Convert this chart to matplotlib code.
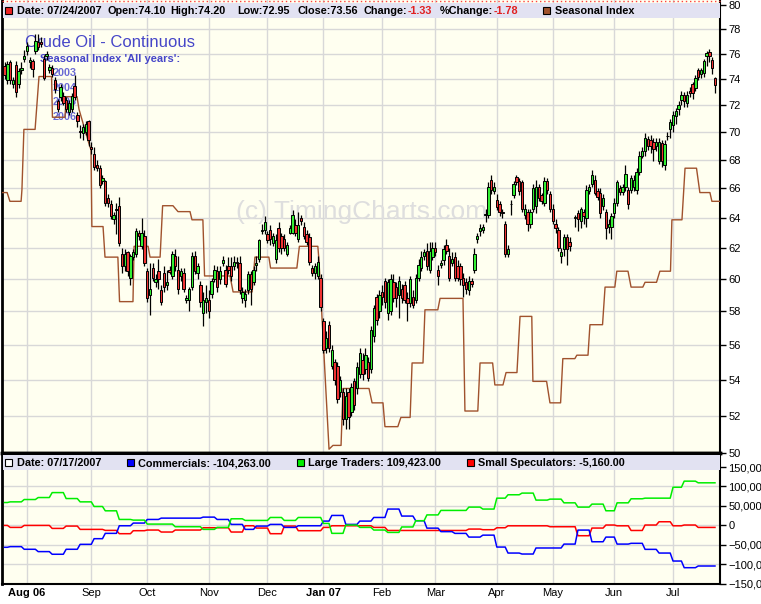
import numpy as np
import pandas as pd
import matplotlib
matplotlib.use("Agg")
import matplotlib.pyplot as plt
from matplotlib.patches import Rectangle
from matplotlib.lines import Line2D
from matplotlib.ticker import FixedLocator, NullLocator, FuncFormatter

plt.rcParams['font.family'] = ['Liberation Sans', 'DejaVu Sans']

nan = np.nan
# ---------------- data ----------------
holidays = ['2006-09-04', '2006-11-23', '2006-12-25', '2007-01-01', '2007-01-02',
            '2007-02-19', '2007-04-06', '2007-05-28', '2007-07-04']
month_labels = ['Aug 06', 'Sep', 'Oct', 'Nov', 'Dec', 'Jan 07', 'Feb', 'Mar', 'Apr', 'May', 'Jun', 'Jul']

opens = [75.05, 73.9, 75.3, 73.6, 75.1, 73.6, 74.7, 75.6, 76.2, 75.3,
         75.45, 76.2, 76.9, 76.9, 75.6, 75.85, 74.7, 74.9, 73.9, 72.3,
         72.6, 72.7, 72.4, 71.5, 71.7, 73.5, 71.3, 70.1, 69.9, 70.0,
         70.8, 68.9, 68.4, 67.6, 67.4, 66.5, 66.5, 65.3, 64.9, 63.9,
         64.5, 64.8, 61.6, 60.8, 61.7, 60.1, 61.4, 61.6, 63.0, 62.1,
         62.8, 60.5, 59.0, 60.7, 59.8, 60.5, 59.3, 60.4, 59.6, 60.6,
         60.2, 61.5, 60.6, 60.2, 60.4, 58.7, 58.7, 59.5, 61.5, 60.4,
         59.6, 57.9, 58.6, 58.7, 59.1, 60.0, 60.5, 60.0, 61.0, 60.6,
         60.8, 60.8, 60.8, 61.1, 61.0, 58.8, 58.7, 59.3, 60.3, 59.8,
         60.9, 61.3, 63.1, 63.2, 62.9, 63.2, 62.3, 61.3, 63.3, 62.8,
         62.6, 61.6, 63.0, 63.0, 63.5, 62.6, 64.0, 63.4, 62.9, 62.7,
         60.7, 60.4, 60.2, 60.1, 57.4, 55.8, 57.2, 54.8, 55.0, 54.8,
         53.3, 53.3, 51.8, 53.3, 52.2, 53.9, 53.5, 54.3, 55.1, 54.6,
         55.0, 54.6, 56.5, 58.9, 58.0, 59.2, 59.9, 57.9, 58.0, 59.8,
         59.5, 59.0, 59.4, 59.6, 58.8, 58.5, 58.9, 58.7, 60.1, 60.7,
         61.5, 61.8, 60.6, 61.4, 62.0, 60.6, 60.9, 61.2, 62.2, 61.5,
         61.0, 61.4, 60.8, 60.8, 60.1, 59.8, 59.3, 59.9, 60.6, 62.6,
         63.1, 63.2, 64.2, 64.2, 66.6, 65.8, 65.2, 64.9, 64.4, 63.6,
         61.6, 64.9, 65.5, 66.8, 66.5, 66.4, 64.2, 64.4, 63.6, 64.6,
         64.8, 66.1, 65.5, 65.0, 66.5, 65.6, 64.6, 63.6, 63.2, 61.5,
         61.9, 62.7, 62.4, nan, 64.0, 64.3, 63.8, 64.4, 64.0, 65.8,
         66.3, 66.6, 65.8, 65.7, 64.8, 64.4, 63.4, 63.4, 64.3, 65.0,
         66.0, 65.75, 66.05, 65.9, 65.9, 66.1, 65.9, 67.1, 68.3, 68.6,
         69.5, 69.4, 69.3, 69.0, 67.9, 69.2, 67.6, 69.7, 70.2, 70.5,
         71.2, 71.75, 72.4, 72.8, 72.2, 73.1, 73.6, 73.3, 74.7, 74.4,
         74.5, 75.85, 76.1, 75.5, 74.10]
highs = [75.3, 75.4, 75.5, 74.2, 75.4, 74.9, 75.3, 76.3, 76.9, 75.7,
         75.6, 77.6, 77.6, 77.3, 75.9, 76.2, 75.2, 75.1, 74.2, 72.5,
         73.6, 73.0, 72.6, 72.4, 72.9, 74.3, 71.5, 70.5, 70.6, 70.8,
         70.9, 69.3, 68.9, 68.0, 67.6, 66.9, 66.6, 65.6, 65.2, 64.4,
         65.0, 65.4, 62.0, 61.9, 61.8, 61.6, 61.9, 63.3, 63.2, 64.0,
         63.2, 60.7, 61.0, 61.0, 60.3, 61.3, 59.6, 60.8, 60.6, 60.8,
         61.8, 61.9, 61.5, 60.7, 60.7, 59.0, 59.5, 61.7, 61.8, 61.0,
         59.9, 59.2, 59.6, 59.3, 60.1, 60.9, 60.8, 60.8, 61.5, 60.9,
         61.4, 61.4, 61.5, 61.4, 61.5, 59.5, 59.4, 60.5, 60.5, 60.8,
         61.5, 62.6, 63.6, 64.1, 63.1, 63.5, 63.0, 62.9, 63.7, 63.0,
         62.9, 62.4, 63.5, 64.5, 63.9, 64.4, 64.2, 63.7, 63.2, 63.0,
         60.9, 61.0, 61.5, 60.3, 57.6, 56.8, 57.4, 56.0, 55.2, 55.0,
         54.2, 53.5, 53.5, 53.5, 53.8, 54.1, 55.0, 55.8, 55.5, 55.8,
         55.3, 57.1, 58.4, 59.1, 59.3, 59.6, 60.1, 60.0, 60.3, 60.3,
         59.8, 60.2, 59.7, 59.9, 59.2, 60.2, 59.3, 60.3, 61.3, 61.8,
         61.9, 62.3, 62.4, 62.4, 62.4, 60.9, 61.2, 62.2, 62.6, 62.0,
         61.7, 61.7, 61.2, 61.0, 60.4, 60.1, 60.2, 60.1, 62.0, 63.0,
         63.6, 63.6, 64.6, 66.4, 66.9, 66.4, 65.6, 65.1, 64.6, 63.8,
         62.2, 65.2, 66.5, 66.9, 66.7, 66.6, 64.9, 64.6, 64.6, 66.3,
         66.6, 66.3, 65.7, 66.8, 66.7, 65.8, 64.9, 63.9, 63.4, 62.0,
         62.9, 62.9, 62.7, nan, 64.2, 64.5, 64.7, 64.6, 66.2, 66.3,
         67.3, 66.9, 66.0, 66.0, 65.6, 64.6, 63.9, 64.3, 65.3, 66.6,
         66.2, 66.3, 67.6, 66.1, 66.9, 66.9, 67.4, 68.6, 68.9, 69.9,
         69.7, 69.8, 69.6, 69.6, 69.6, 69.4, 69.4, 70.0, 71.0, 71.6,
         71.8, 72.3, 73.1, 73.0, 73.1, 73.4, 73.8, 74.3, 74.9, 74.9,
         75.6, 76.2, 76.4, 75.7, 74.20]
lows = [74.0, 73.6, 73.6, 73.3, 72.6, 73.3, 74.4, 75.3, 75.9, 74.9,
        74.2, 76.0, 76.3, 76.5, 73.9, 75.5, 74.5, 74.2, 72.9, 71.5,
        72.3, 72.0, 71.5, 71.3, 71.5, 72.4, 70.4, 69.6, 69.4, 69.8,
        69.0, 68.4, 67.3, 67.2, 66.0, 66.3, 64.8, 64.7, 63.9, 63.6,
        62.9, 62.1, 60.4, 60.5, 60.2, 59.6, 61.2, 61.4, 62.5, 61.9,
        60.8, 58.6, 57.8, 59.9, 59.5, 59.4, 58.4, 59.2, 59.3, 60.3,
        60.0, 60.5, 59.1, 59.9, 59.2, 58.5, 58.0, 59.3, 60.3, 60.0,
        58.3, 57.1, 57.9, 57.6, 58.8, 59.8, 59.2, 59.7, 60.8, 59.5,
        60.3, 59.9, 60.6, 60.7, 59.1, 58.5, 58.3, 59.1, 58.4, 59.6,
        60.5, 61.1, 62.9, 62.9, 62.3, 62.2, 62.1, 61.0, 61.7, 61.6,
        61.8, 61.5, 62.9, 62.9, 62.8, 62.4, 63.5, 62.6, 62.2, 60.9,
        60.2, 60.0, 60.0, 58.0, 55.5, 55.5, 55.6, 54.6, 53.7, 52.7,
        53.0, 51.5, 51.3, 51.3, 52.0, 52.3, 53.2, 54.1, 54.0, 54.3,
        53.9, 54.4, 56.2, 57.2, 57.6, 58.4, 58.2, 57.5, 57.8, 58.6,
        58.3, 57.6, 58.5, 58.5, 57.4, 58.3, 58.2, 58.5, 59.9, 60.5,
        61.2, 60.6, 60.4, 61.2, 61.5, 59.6, 60.7, 60.9, 61.6, 59.9,
        60.8, 59.9, 59.9, 59.6, 58.9, 59.1, 59.0, 59.5, 60.4, 62.3,
        62.8, 63.0, 63.7, 64.0, 65.6, 65.6, 64.5, 64.1, 64.0, 61.4,
        61.4, 64.2, 65.3, 66.2, 65.5, 64.4, 63.9, 63.1, 63.3, 64.4,
        64.3, 65.1, 64.9, 64.8, 65.6, 64.4, 63.6, 63.0, 61.8, 61.0,
        61.5, 60.9, 61.8, nan, 63.4, 63.1, 63.3, 63.6, 63.4, 65.6,
        66.1, 65.5, 65.2, 64.0, 64.5, 62.6, 63.0, 62.6, 64.0, 64.8,
        65.5, 65.5, 65.8, 64.6, 65.7, 65.8, 65.6, 66.9, 68.1, 68.3,
        68.7, 68.5, 67.9, 68.6, 67.7, 67.5, 67.3, 69.4, 69.6, 70.0,
        70.6, 71.3, 72.0, 71.9, 71.9, 72.6, 72.5, 73.1, 73.9, 74.1,
        74.2, 75.0, 75.3, 74.4, 72.95]
closes = [74.3, 75.2, 73.9, 73.9, 73.0, 74.6, 74.9, 75.85, 76.6, 75.5,
          74.8, 77.0, 76.5, 76.8, 74.1, 76.0, 74.95, 74.4, 73.2, 71.7,
          73.4, 72.2, 71.7, 72.2, 72.7, 72.6, 70.8, 70.0, 70.4, 70.6,
          69.4, 68.75, 67.5, 67.4, 66.2, 66.7, 65.0, 65.0, 64.1, 64.2,
          64.6, 62.3, 60.8, 61.6, 60.5, 61.5, 61.7, 63.1, 62.8, 63.0,
          61.0, 58.8, 59.4, 60.1, 60.0, 60.0, 58.6, 59.5, 59.8, 60.45,
          61.6, 60.8, 59.4, 60.5, 59.4, 58.85, 59.4, 61.5, 60.5, 60.8,
          58.6, 58.7, 58.8, 58.0, 59.9, 60.6, 59.5, 60.5, 61.2, 59.7,
          60.6, 60.2, 61.1, 61.0, 59.3, 59.2, 59.1, 60.3, 59.4, 60.6,
          61.0, 62.5, 63.2, 63.7, 62.5, 62.6, 62.8, 62.5, 62.0, 62.0,
          62.0, 62.2, 63.3, 64.2, 63.0, 63.5, 63.8, 62.8, 62.4, 61.1,
          60.4, 60.8, 61.1, 58.3, 55.7, 56.4, 55.8, 55.7, 54.0, 52.9,
          54.0, 51.8, 53.1, 51.9, 53.6, 52.6, 54.7, 55.5, 54.3, 55.4,
          54.1, 56.9, 58.2, 57.5, 59.0, 58.9, 58.6, 59.8, 60.0, 58.8,
          58.8, 59.9, 58.8, 58.7, 58.5, 60.0, 58.4, 60.1, 60.9, 61.4,
          61.7, 60.8, 61.8, 62.0, 61.7, 60.2, 61.0, 61.9, 61.8, 60.1,
          61.3, 60.1, 60.1, 60.0, 59.6, 59.4, 59.9, 59.7, 61.6, 62.8,
          63.3, 63.35, 64.25, 66.1, 65.9, 66.05, 64.7, 64.4, 64.3, 61.6,
          61.9, 64.95, 66.3, 66.4, 65.8, 64.6, 64.6, 63.6, 64.4, 66.0,
          66.1, 65.3, 65.15, 66.5, 65.9, 64.6, 63.8, 63.3, 62.0, 61.7,
          62.7, 61.9, 62.1, nan, 64.05, 63.9, 64.6, 64.1, 65.9, 66.05,
          66.9, 65.7, 65.4, 64.3, 65.3, 63.3, 63.6, 64.1, 65.0, 66.4,
          65.75, 66.05, 67.0, 64.9, 66.7, 66.6, 67.1, 68.3, 68.6, 69.6,
          69.0, 69.0, 68.8, 69.3, 69.3, 67.9, 69.1, 69.75, 70.75, 71.3,
          71.55, 72.0, 72.8, 72.3, 72.8, 72.95, 72.9, 74.1, 74.2, 74.7,
          75.45, 76.05, 75.85, 74.89, 73.56]

# Seasonal index (vertices: trading-day position, value)
seasonal_pos = [-0.9, 0.9, 1.9, 5.9, 6.2, 6.9, 10.9, 12.3, 16.8, 17.1, 21.6, 22.0, 25.9, 26.6, 29.8, 30.9,
                31.2, 35.2, 35.9, 40.5, 41.1, 45.9, 46.3, 51.3, 52.0, 55.6, 56.5, 60.2, 62.0, 66.3, 67.0,
                70.9, 71.5, 80.6, 81.7, 88.5, 89.5, 94.5, 95.1, 104.5, 105.4, 112.0, 112.4, 116.0, 117.4,
                120.3, 121.0, 130.3, 131.4, 135.3, 136.0, 140.6, 141.7, 145.0, 145.7, 149.6, 150.3, 154.9,
                155.7, 163.9, 164.6, 169.2, 170.0, 174.5, 175.3, 178.2, 179.3, 183.2, 184.3, 188.5, 188.9,
                193.8, 195.0, 198.8, 199.6, 203.9, 204.6, 208.6, 209.3, 213.8, 214.7, 218.2, 218.9, 222.9,
                224.0, 228.2, 229.0, 233.1, 234.3, 238.1, 238.6, 242.2, 243.3, 247.4, 248.6, 252.2, 252.9, 255.8]
seasonal_val = [65.7, 65.7, 65.1, 65.1, 65.9, 70.2, 70.2, 74.2, 74.2, 71.1, 71.1, 72.65, 72.65, 71.7, 69.4, 68.7,
                63.4, 63.4, 61.4, 61.4, 58.6, 58.6, 62.1, 62.1, 61.4, 61.4, 64.8, 64.8, 64.4, 64.4, 63.85,
                63.85, 60.2, 60.2, 59.2, 59.2, 61.4, 61.4, 60.7, 60.7, 62.1, 62.1, 61.2, 50.2, 50.4,
                50.4, 53.5, 53.5, 52.7, 52.7, 51.4, 51.4, 51.9, 51.9, 54.95, 54.95, 58.1, 58.1,
                58.8, 58.8, 52.25, 52.25, 54.95, 54.95, 53.7, 53.7, 54.4, 54.4, 57.7, 57.7, 53.9,
                53.9, 52.7, 52.7, 55.2, 55.2, 55.4, 55.4, 57.2, 57.2, 59.5, 59.5, 60.5, 60.5,
                59.5, 59.5, 59.8, 59.8, 60.5, 60.5, 63.85, 63.85, 67.4, 67.4, 65.7, 65.7, 65.1, 65.1]

# COT weekly net positions, thousands (effective week start)
cot_weeks = ['2006-07-20', '2006-07-24', '2006-07-31', '2006-08-07', '2006-08-14', '2006-08-21', '2006-08-28',
             '2006-09-05', '2006-09-11', '2006-09-18', '2006-09-25', '2006-10-02', '2006-10-09', '2006-10-16',
             '2006-10-23', '2006-10-30', '2006-11-06', '2006-11-13', '2006-11-20', '2006-11-27', '2006-12-04',
             '2006-12-11', '2006-12-18', '2006-12-26', '2007-01-03', '2007-01-08', '2007-01-15', '2007-01-22',
             '2007-01-29', '2007-02-05', '2007-02-12', '2007-02-20', '2007-02-26', '2007-03-05', '2007-03-12',
             '2007-03-19', '2007-03-26', '2007-04-02', '2007-04-09', '2007-04-16', '2007-04-23', '2007-04-30',
             '2007-05-07', '2007-05-14', '2007-05-21', '2007-05-29', '2007-06-04', '2007-06-11', '2007-06-18',
             '2007-06-25', '2007-07-02', '2007-07-09', '2007-07-16']
large_traders = [58.8, 60.5, 66.5, 71.6, 84.3, 69.0, 60.5, 48.6, 37.5, 15.3, 13.6, 3.4, 3.4, -3.4, -3.4, -10.2,
                 -5.1, 17.0, 12.8, 12.8, 20.4, 12.8, 20.4, 20.4, 5.1, -20.4, 0.9, -5.1, -11.9, -18.0, -4.0, 12.0,
                 27.0, 38.5, 38.5, 47.0, 42.0, 70.0, 78.7, 83.0, 65.0, 67.5, 58.0, 47.0, 54.7, 37.6, 58.0, 68.4,
                 70.0, 70.0, 98.0, 113.7, 109.423]
commercials = [-56.2, -54.5, -61.3, -67.3, -74.1, -61.3, -48.6, -34.1, -20.4, -0.9, 6.0, 15.3, 18.7, 18.7, 18.7,
               21.3, 15.3, 2.6, -10.2, -1.7, 2.6, -5.1, -0.9, -0.9, 11.1, 25.6, 2.6, 11.1, 20.4, 42.0, 24.0, 12.0,
               -7.0, -16.0, -20.5, -30.0, -25.0, -55.6, -71.0, -73.5, -58.0, -58.0, -48.0, -12.0, -42.0, -30.0,
               -48.0, -46.0, -61.5, -71.0, -91.5, -108.6, -104.263]
small_specs = [0.0, -5.1, 0.0, 0.0, -7.7, -1.7, -10.2, -10.2, -12.8, -21.3, -13.6, -11.9, -17.0, -11.9, -11.9,
               -6.0, -6.0, -17.0, -0.9, -6.8, -21.3, -1.7, -13.6, -13.6, -5.1, -0.9, -0.9, -0.9, -5.1, -13.0,
               -13.0, -13.0, -13.0, -13.0, -13.0, -9.4, -11.0, -6.0, -1.0, -1.0, -1.0, -3.4, -3.4, -26.5, -6.8,
               1.0, -1.0, -13.0, 1.0, 9.4, -1.0, 1.0, -5.16]

price_ticks = list(range(50, 82, 2))
cot_ticks = [-150000, -100000, -50000, 0, 50000, 100000, 150000]

# ---------------- derived ----------------
dates = pd.bdate_range('2006-07-20', '2007-07-24')
dates = dates[~dates.isin(pd.to_datetime(holidays))]
n = len(dates)
x = np.arange(n)
o = np.array(opens); h = np.array(highs); l = np.array(lows); c = np.array(closes)

mstart = [int(np.argmax((dates.year == d.year) & (dates.month == d.month)))
          for d in pd.date_range('2006-08-01', '2007-07-01', freq='MS')]

W, H = 761, 604
fig = plt.figure(figsize=(W / 100, H / 100), dpi=100)
fig.patch.set_facecolor('white')

def fx(px):
    return px / W

def fy(py):
    return 1 - py / H

bg = '#FFFFF0'
grid_c = '#D8D8D8'
ax = fig.add_axes([fx(2), fy(453), fx(720) - fx(2), fy(0) - fy(453)])
ax2 = fig.add_axes([fx(2), fy(584), fx(720) - fx(2), fy(453) - fy(584)])

xlim = (-0.93, 255.8)
for a in (ax, ax2):
    a.set_facecolor(bg)
    a.set_xlim(*xlim)
    a.set_xticks(mstart)
    a.grid(True, axis='both', color=grid_c, lw=1.0, zorder=0)
    a.set_axisbelow(True)
    a.tick_params(axis='x', length=0)
    a.yaxis.tick_right()
    a.tick_params(axis='y', which='major', direction='out', length=4, width=1, pad=2,
                  labelsize=8, colors='black')

# ---- main price axis ----
ax.set_yscale('log')
ax.set_ylim(50, 80.4)
ax.yaxis.set_major_locator(FixedLocator(price_ticks))
ax.yaxis.set_minor_locator(NullLocator())
ax.yaxis.set_major_formatter(FuncFormatter(lambda v, p: f"{v:.0f}"))
ax.set_xticklabels([])
ax.spines['left'].set_linewidth(2)
ax.spines['right'].set_linewidth(1.5)
ax.spines['bottom'].set_linewidth(2.5)
ax.spines['top'].set_visible(False)

# watermark
ax.text(0.501, 0.532, '(c) TimingCharts.com', transform=ax.transAxes, ha='center', va='center',
        fontsize=19, color='#DEDEDE', zorder=1)

# titles
blue_t = '#4646C8'
ax.text((25 - 2) / 718, 1 - 46.7 / 453, 'Crude Oil - Continuous', transform=ax.transAxes,
        fontsize=12, color=blue_t, va='baseline', ha='left', zorder=2)
ax.text((40 - 2) / 718, 1 - 62.3 / 453, "Seasonal Index 'All years':", transform=ax.transAxes,
        fontsize=8, fontweight='bold', color=blue_t, va='baseline', zorder=2)
for yr, yb in zip(['2003', '2004', '2005', '2006'], [75.7, 91, 105.3, 120]):
    ax.text((53 - 2) / 718, 1 - yb / 453, yr, transform=ax.transAxes, fontsize=7.8, fontweight='bold',
            color='#5050D0', alpha=0.85, va='baseline', zorder=2)

# seasonal index
ax.plot(seasonal_pos, seasonal_val, color='#A0522D', lw=1.0, zorder=3)

# candles
valid = ~np.isnan(o)
up = c >= o
ax.vlines(x[valid], l[valid], h[valid], color='black', lw=0.9, zorder=4)
body_lo = np.minimum(o, c)
body_h = np.maximum(np.abs(c - o), 0.04)
cols = np.where(up, '#33EE33', '#EE3333')
ax.bar(x[valid], body_h[valid], bottom=body_lo[valid], width=0.85, color=cols[valid],
       edgecolor='black', linewidth=0.7, zorder=5)

# ---- COT axis ----
ax2.set_ylim(-150500, 186000)
ax2.yaxis.set_major_locator(FixedLocator(cot_ticks))
ax2.yaxis.set_major_formatter(FuncFormatter(lambda v, p: f"{v:,.0f}".replace('-', '\u2212')))
ax2.set_xticklabels(month_labels, fontsize=8)
for lab, txt in zip(ax2.get_xticklabels(), month_labels):
    if ' ' in txt:
        lab.set_fontweight('bold')
ax2.tick_params(axis='x', pad=3)
ax2.spines['left'].set_linewidth(2)
ax2.spines['right'].set_linewidth(1.5)
ax2.spines['bottom'].set_linewidth(1.5)
ax2.spines['top'].set_linewidth(2.5)

wk_idx = [int(np.searchsorted(dates.values, np.datetime64(d))) for d in cot_weeks]
def cot_xy(vals):
    xs, ys = [], []
    for k, v in enumerate(vals):
        s = wk_idx[k]
        e = wk_idx[k + 1] - 1 if k + 1 < len(wk_idx) else n - 1
        xs += [s, e]
        ys += [v * 1000, v * 1000]
    return xs, ys

for vals, col in ((small_specs, '#FF0000'), (commercials, '#0000FF'), (large_traders, '#00EE00')):
    xs, ys = cot_xy(vals)
    ax2.plot(xs, ys, color=col, lw=1.1, zorder=3)

# ---- header bands & legends (figure level) ----
band_c = '#E2E2F2'
fig.add_artist(Rectangle((fx(2.5), fy(18)), fx(720) - fx(2.5), fy(3) - fy(18), transform=fig.transFigure,
                         facecolor=band_c, edgecolor='none', zorder=10))
fig.add_artist(Rectangle((fx(2.5), fy(470)), fx(720) - fx(2.5), fy(455) - fy(470), transform=fig.transFigure,
                         facecolor=band_c, edgecolor='none', zorder=10))
fig.add_artist(Line2D([fx(2), fx(720)], [fy(0.6), fy(0.6)], transform=fig.transFigure, color='#FF4040',
                      lw=1, ls=(0, (1, 2)), zorder=11))

def square(x0, y0, col):
    fig.add_artist(Rectangle((fx(x0), fy(y0 + 7)), fx(7), 7 / H, transform=fig.transFigure,
                             facecolor=col, edgecolor='black', lw=0.8, zorder=11))

def htext(px, py, s, col='black'):
    fig.text(fx(px), fy(py), s, fontsize=7.8, fontweight='bold', color=col, va='baseline', ha='left', zorder=12)

square(5, 7, '#EE2222')
htext(17, 14, 'Date: 07/24/2007')
htext(108, 14, 'Open:74.10')
htext(170, 14, 'High:74.20')
htext(237, 14, 'Low:72.95')
htext(297, 14, 'Close:73.56')
htext(363, 14, 'Change:')
htext(408, 14, '-1.33', '#E02020')
htext(440, 14, '%Change:')
htext(494, 14, '-1.78', '#E02020')
square(543, 7, '#A0522D')
htext(555, 14, 'Seasonal Index')

square(5, 459, 'white')
htext(17, 466, 'Date: 07/17/2007')
square(127, 459, '#0000FF')
htext(138, 466, 'Commercials: -104,263.00')
square(297, 459, '#00EE00')
htext(308, 466, 'Large Traders: 109,423.00')
square(467, 459, '#FF0000')
htext(478, 466, 'Small Speculators: -5,160.00')

fig.savefig('out.png', dpi=100, facecolor='white')
